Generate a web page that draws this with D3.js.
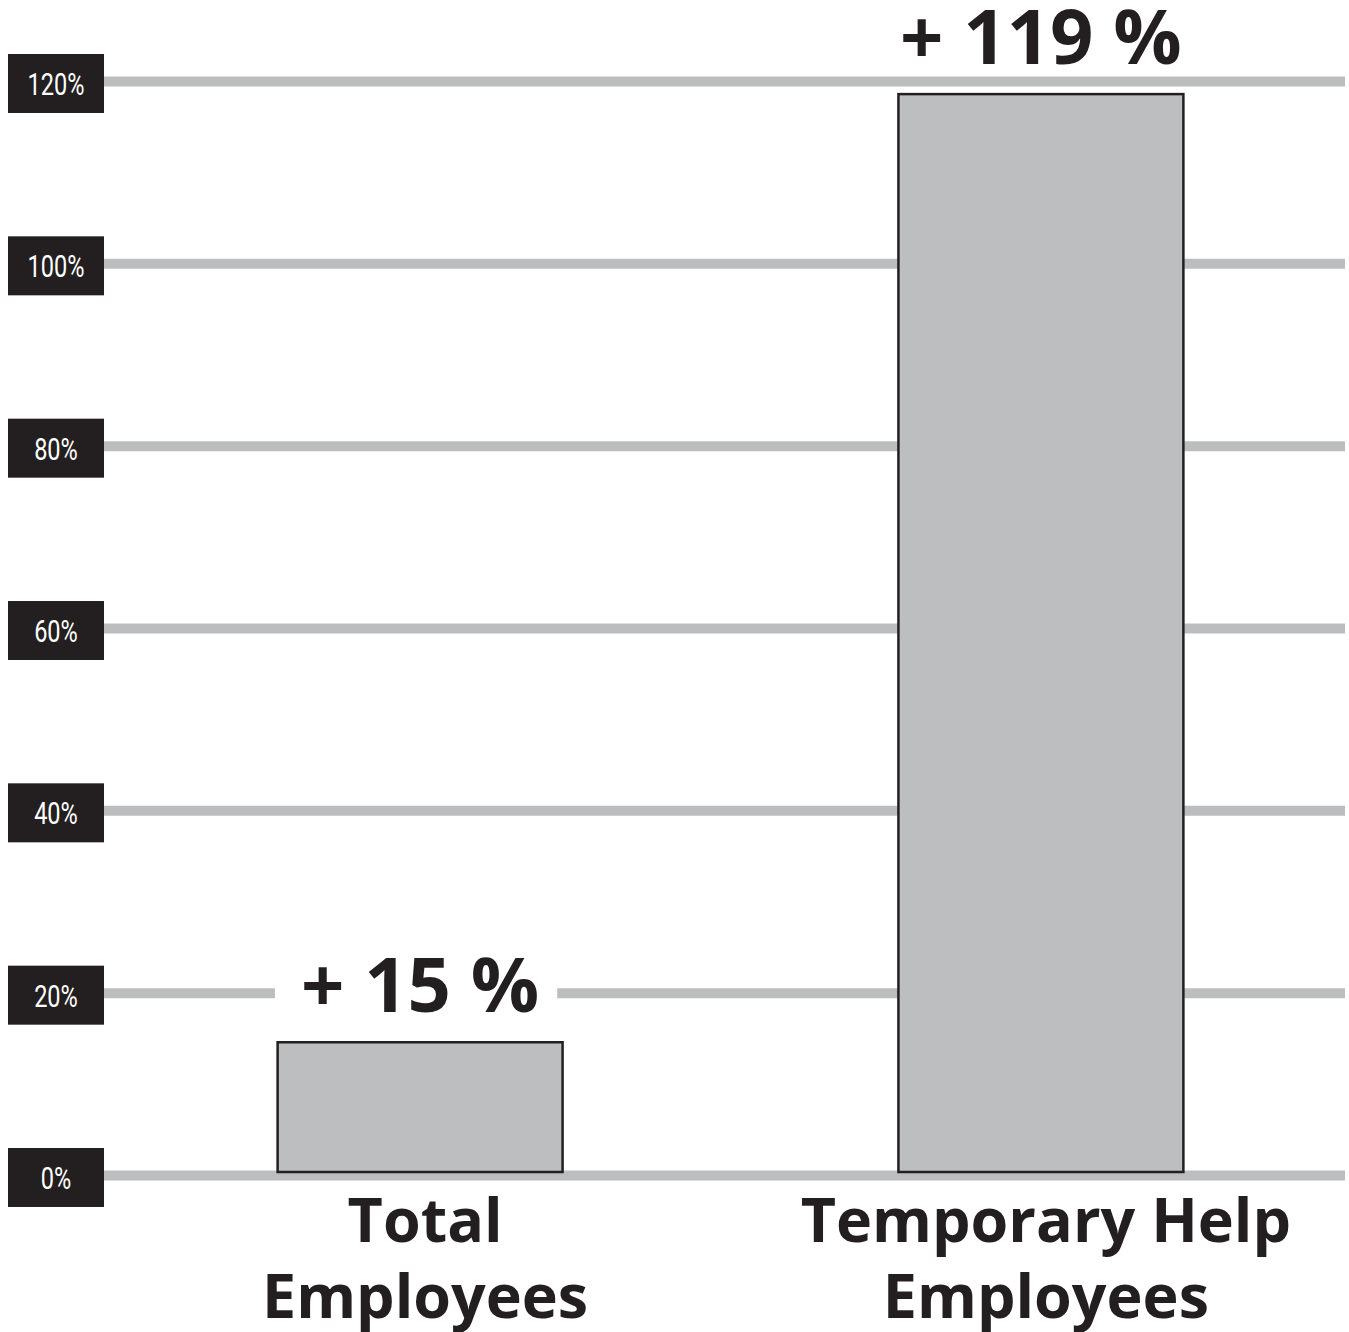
<!DOCTYPE html>
<html>
<head>
<meta charset="utf-8">
<script src="https://cdn.jsdelivr.net/npm/d3@7"></script>
<style>
  body { margin: 0; background: #fff; }
  svg { display: block; }
</style>
</head>
<body>
<script>
const W = 1349, H = 1332;

// data
const categories = [['Total', 'Employees'], ['Temporary Help', 'Employees']];
const growth = [15, 119];
const valueLabels = ['+ 15 %', '+ 119 %'];
const ticks = [0, 20, 40, 60, 80, 100, 120];

// colors
const colorGrid = '#bcbdbf';
const colorBar = '#bdbec0';
const colorInk = '#231f20';

const svg = d3.select('body').append('svg')
    .attr('width', W)
    .attr('height', H);

const y = d3.scaleLinear().domain([0, 120]).range([1175, 81]);
const x = d3.scaleBand().domain(d3.range(categories.length))
    .range([110, 1351]).paddingInner(0.541).paddingOuter(0.27);

// gridlines
const grid = svg.append('g')
    .attr('transform', 'translate(104,0)')
    .call(d3.axisRight(y).tickValues(ticks).tickSize(1241).tickFormat(''));
grid.select('.domain').remove();
grid.selectAll('.tick line')
    .attr('stroke', colorGrid)
    .attr('stroke-width', 10);

// bars
svg.append('g').selectAll('rect')
  .data(growth)
  .join('rect')
    .attr('x', (d, i) => x(i))
    .attr('width', x.bandwidth())
    .attr('y', d => y(d) + 4)
    .attr('height', d => y(0) - y(d) - 7)
    .attr('fill', colorBar)
    .attr('stroke', colorInk)
    .attr('stroke-width', 2.5);

// value labels, knocked out of the grid
const vl = svg.append('g').selectAll('g')
  .data(growth)
  .join('g')
    .attr('transform', (d, i) => `translate(${x(i) + x.bandwidth() / 2},${y(d) - 26})`);

vl.append('rect').attr('fill', '#fff');
vl.append('text')
    .attr('text-anchor', 'middle')
    .attr('font-family', '"Open Sans", sans-serif')
    .attr('font-weight', 700)
    .attr('font-size', 76)
    .attr('fill', colorInk)
    .text((d, i) => valueLabels[i]);

vl.each(function() {
  const g = d3.select(this);
  const b = g.select('text').node().getBBox();
  g.select('rect')
      .attr('x', b.x - 26)
      .attr('width', b.width + 44)
      .attr('y', -58)
      .attr('height', 70);
});

// category labels
const cl = svg.append('g').selectAll('g')
  .data(categories)
  .join('g')
    .attr('transform', (d, i) => `translate(${x(i) + x.bandwidth() / 2 + 5},0)`);

cl.selectAll('text')
  .data(d => d)
  .join('text')
    .attr('text-anchor', 'middle')
    .attr('font-family', '"Open Sans", sans-serif')
    .attr('font-weight', 700)
    .attr('font-size', 61)
    .attr('fill', colorInk)
    .attr('y', (d, j) => 1242 + j * 76)
    .text(d => d);

// tick label boxes
const tk = svg.append('g').selectAll('g')
  .data(ticks)
  .join('g')
    .attr('transform', d => `translate(8,${y(d)})`);

tk.append('rect')
    .attr('y', -27)
    .attr('width', 96)
    .attr('height', 59)
    .attr('fill', colorInk);

tk.append('text')
    .attr('transform', 'translate(48,14) scale(0.76,1)')
    .attr('text-anchor', 'middle')
    .attr('font-family', 'Roboto, sans-serif')
    .attr('font-size', 31)
    .attr('fill', '#fff')
    .text(d => d + '%');
</script>
</body>
</html>
